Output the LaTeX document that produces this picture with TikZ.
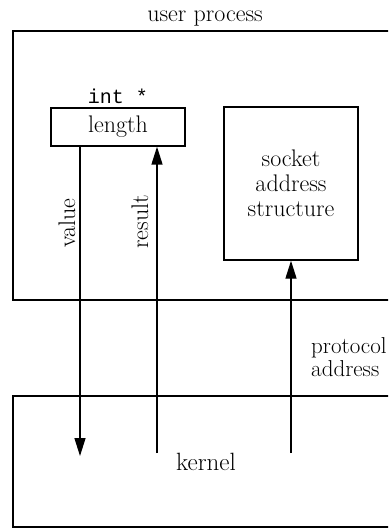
\documentclass[tikz,border=0pt]{standalone}
\usepackage{fontspec}
\setmonofont{Liberation Mono}
\usetikzlibrary{arrows.meta}
\begin{document}
\begin{tikzpicture}[x=1pt,y=-1pt,
  every node/.style={inner sep=0pt,font=\fontsize{24}{25}\selectfont},
  frame/.style={draw,line width=1.4pt},
  conn/.style={line width=1.4pt},
  tip/.style={-{Triangle[length=18pt,width=11pt]}},
  lbl/.style={},
  vlbl/.style={rotate=90}]
\useasboundingbox (0,0) rectangle (388,529);
\clip (0,0) rectangle (388,529);
\draw[frame] (420,31) -- (13,31) -- (13,300) -- (420,300);
\draw[frame] (420,396) -- (13,396) -- (13,527) -- (420,527);
\node[lbl,anchor=base] (up) at (205,22) {user process};
\node[lbl,font=\fontsize{25}{25}\selectfont] (ker) at (206,462) {kernel};
\node[lbl,font=\fontsize{20}{24}\ttfamily] (int) at (118,96) {int *};
\node[frame,minimum width=134pt,minimum height=38pt] (len) at (118,127) {length};
\node[frame,minimum width=134pt,minimum height=153pt,align=center] (sock) at (291,183.5) {socket\\address\\structure};
\node[lbl,anchor=west,align=left,font=\fontsize{23}{23}\selectfont] (prot) at (311,357) {protocol\\address};
\coordinate (vend) at (80,456);
\coordinate (rstart) at (157,453);
\coordinate (pstart) at (291,453);
\draw[conn,tip] (len.south -| vend) -- (vend);
\draw[conn,tip] (rstart) -- (len.south -| rstart);
\draw[conn,tip] (pstart) -- (sock.south);
\node[vlbl] (val) at (67,223) {value};
\node[vlbl] (res) at (140,222) {result};
\end{tikzpicture}
\end{document}
